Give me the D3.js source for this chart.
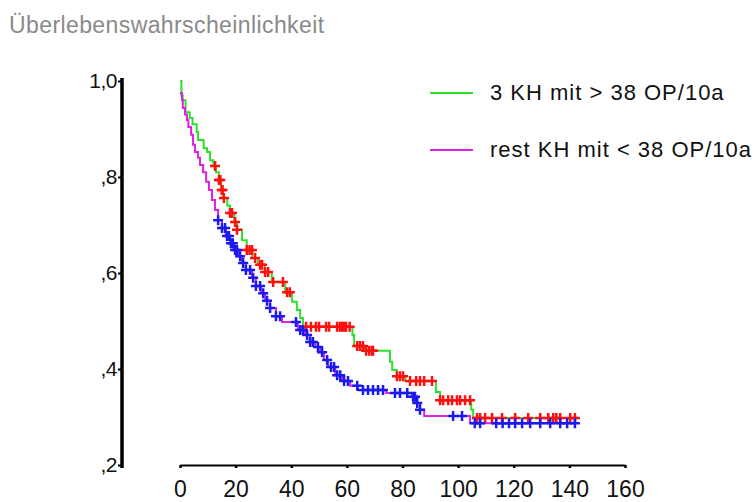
<!DOCTYPE html>
<html>
<head>
<meta charset="utf-8">
<script src="https://cdn.jsdelivr.net/npm/d3@7"></script>
<style>
  body { margin: 0; background: #fff; }
  text { font-family: "Liberation Sans", Arial, sans-serif; }
</style>
</head>
<body>
<div id="chart"></div>
<script>
// Kaplan-Meier Kurven: Zeit in Monaten, Ueberlebenswahrscheinlichkeit
var groupNames = ["3 KH mit > 38 OP/10a", "rest KH mit < 38 OP/10a"];

// Gruppe 1 (gruen) - Stufen
var greenTimes = [0, 0.5, 1, 2, 3.5, 4.5, 6, 6.5, 8.5, 9.7, 10.8, 12, 13, 14, 14.8, 15.5, 17, 18, 19.5, 20.5, 22.3, 24, 26, 28, 30.5, 33, 37.8, 40.3, 42, 43.2, 44.2, 62, 62.6, 66.5, 75.5, 76.3, 78, 81, 92, 93.5, 104.7, 105.4];
var greenSurv = [1.0, 0.97, 0.96, 0.935, 0.923, 0.91, 0.894, 0.877, 0.86, 0.852, 0.835, 0.823, 0.81, 0.794, 0.773, 0.756, 0.74, 0.725, 0.706, 0.69, 0.668, 0.648, 0.631, 0.617, 0.602, 0.581, 0.56, 0.54, 0.523, 0.506, 0.488, 0.471, 0.448, 0.438, 0.415, 0.398, 0.385, 0.375, 0.352, 0.335, 0.315, 0.298];
var greenEnd = 142;
// zensierte Faelle (rot)
var greenCensor = [12.6, 14, 14.5, 15, 15.3, 15.8, 18, 18.7, 19.8, 20.5, 24, 25, 25.9, 27, 28.8, 29.5, 30.6, 31.7, 33.5, 37, 38.5, 39.5, 45.3, 47.1, 48.9, 50, 52.5, 53.6, 56.5, 57.5, 58.3, 59, 59.7, 61, 63.7, 64.7, 65.8, 66.9, 68, 69, 69.4, 78, 79.1, 80.2, 82.7, 84.9, 86.3, 87.8, 90.6, 93.5, 94.6, 96.4, 97.8, 99.6, 100.7, 102.5, 104.3, 106.8, 107.9, 109.7, 112.2, 115.8, 120.5, 125.2, 129.5, 132.4, 134.2, 135.3, 136.7, 140.3, 142];

// Gruppe 2 (magenta) - Stufen
var magentaTimes = [0, 0.7, 1, 1.8, 2.5, 3, 4, 4.7, 5.4, 6.5, 7.2, 8.3, 9.4, 10.4, 11.5, 12.6, 13.7, 15.1, 16.5, 18, 19.4, 20.9, 22.3, 23.7, 25.9, 27.3, 29.1, 30.6, 32.4, 34.5, 36.7, 42.4, 45, 46.8, 48.6, 50.4, 51.8, 53.2, 55.8, 58.3, 61.2, 64, 74.1, 83.5, 85, 86.3, 87.8, 104.3];
var magentaSurv = [0.975, 0.96, 0.944, 0.93, 0.919, 0.904, 0.888, 0.867, 0.852, 0.84, 0.825, 0.81, 0.79, 0.773, 0.752, 0.731, 0.71, 0.694, 0.677, 0.662, 0.648, 0.635, 0.621, 0.606, 0.59, 0.573, 0.558, 0.542, 0.527, 0.51, 0.498, 0.481, 0.471, 0.456, 0.446, 0.435, 0.419, 0.404, 0.387, 0.375, 0.365, 0.356, 0.35, 0.342, 0.329, 0.315, 0.302, 0.287];
var magentaEnd = 142;
// zensierte Faelle (blau)
var magentaCensor = [13.7, 15.1, 16.2, 16.9, 17.6, 18.3, 19, 19.8, 20.5, 21.6, 22.7, 23.7, 25.2, 26.3, 27.3, 28.8, 29.9, 31.3, 32.4, 34.5, 36, 41.7, 43.2, 44.2, 45.7, 46.8, 47.8, 49.6, 51.1, 52.9, 54.3, 55.4, 56.5, 57.6, 59, 60.4, 63.7, 65.8, 67.6, 69.4, 71.2, 73, 77.3, 79.1, 81.7, 83.8, 84.5, 85.3, 86.3, 98.2, 101.4, 106, 107.9, 113.7, 116, 118.3, 120.5, 123, 125.9, 129.5, 133.1, 136.7, 139.2, 142];

var xTicks = [0, 20, 40, 60, 80, 100, 120, 140, 160];
var yTicks = [1.0, 0.8, 0.6, 0.4, 0.2];
var yTickLabels = ["1,0", ",8", ",6", ",4", ",2"];

var svgWidth = 756;
var svgHeight = 502;

var svg = d3.select("#chart")
  .append("svg")
  .attr("width", svgWidth)
  .attr("height", svgHeight);

var x = d3.scaleLinear().domain([0, 160]).range([180, 625]);
var y = d3.scaleLinear().domain([0.2, 1.0]).range([465, 81]);

// Titel
svg.append("text")
  .attr("x", 9)
  .attr("y", 33)
  .attr("fill", "#8a8a8a")
  .style("font-size", "23px")
  .style("letter-spacing", "0.4px")
  .text("Überlebenswahrscheinlichkeit");

// y-Achse
var yAxis = svg.append("g")
  .attr("transform", "translate(122,0)")
  .call(d3.axisLeft(y)
    .tickValues(yTicks)
    .tickSize(4)
    .tickPadding(1)
    .tickFormat(function(d, i) { return yTickLabels[i]; }));
yAxis.select(".domain").remove();
yAxis.append("line")
  .attr("x1", 0).attr("x2", 0)
  .attr("y1", 78).attr("y2", 468)
  .attr("stroke", "#000")
  .attr("stroke-width", 3.5);
yAxis.selectAll(".tick line").attr("stroke-width", 2);
yAxis.selectAll(".tick text")
  .attr("fill", "#111")
  .style("font-size", "21px")
  .style("letter-spacing", "-0.5px")
  .style("font-family", "'Liberation Sans', Arial, sans-serif");

// x-Achse
var xAxis = svg.append("g")
  .attr("transform", "translate(0,465)")
  .call(d3.axisBottom(x)
    .tickValues(xTicks)
    .tickSize(3)
    .tickSizeOuter(0)
    .tickPadding(13));
xAxis.select(".domain").attr("stroke-width", 2);
xAxis.selectAll(".tick line").attr("stroke-width", 2.5);
xAxis.selectAll(".tick text")
  .attr("fill", "#111")
  .style("font-size", "23px")
  .style("font-family", "'Liberation Sans', Arial, sans-serif");

// Stufenkurve
function stepPoints(times, surv, end) {
  var pts = times.map(function(t, i) { return [t, surv[i]]; });
  pts.push([end, surv[surv.length - 1]]);
  return pts;
}
function survAt(times, surv, t) {
  var s = surv[0];
  for (var i = 0; i < times.length; i++) {
    if (times[i] <= t) s = surv[i];
  }
  return s;
}

var line = d3.line()
  .x(function(d) { return x(d[0]); })
  .y(function(d) { return y(d[1]); })
  .curve(d3.curveStepAfter);

var series = [
  { times: greenTimes, surv: greenSurv, end: greenEnd, censor: greenCensor, color: "#2ee02e", mark: "#ff1010" },
  { times: magentaTimes, surv: magentaSurv, end: magentaEnd, censor: magentaCensor, color: "#e020e0", mark: "#1a1aee" }
];

series.forEach(function(s) {
  svg.append("path")
    .datum(stepPoints(s.times, s.surv, s.end))
    .attr("fill", "none")
    .attr("stroke", s.color)
    .attr("stroke-width", 2)
    .attr("d", line);
});

series.forEach(function(s) {
  var g = svg.append("g");
  s.censor.forEach(function(t) {
    var cx = x(t), cy = y(survAt(s.times, s.surv, t));
    g.append("path")
      .attr("d", "M" + (cx - 5) + "," + cy + "H" + (cx + 5) + "M" + cx + "," + (cy - 5) + "V" + (cy + 5))
      .attr("stroke", s.mark)
      .attr("stroke-width", 2.5)
      .attr("fill", "none");
  });
});

// Legende
var legend = svg.append("g");
[93, 150].forEach(function(ly, i) {
  legend.append("line")
    .attr("x1", 430).attr("x2", 473)
    .attr("y1", ly).attr("y2", ly)
    .attr("stroke", series[i].color)
    .attr("stroke-width", 2);
  legend.append("text")
    .attr("x", 490)
    .attr("y", ly + 6.5)
    .attr("fill", "#111")
    .style("font-size", "22px")
    .style("letter-spacing", "1px")
    .text(groupNames[i]);
});
</script>
</body>
</html>
